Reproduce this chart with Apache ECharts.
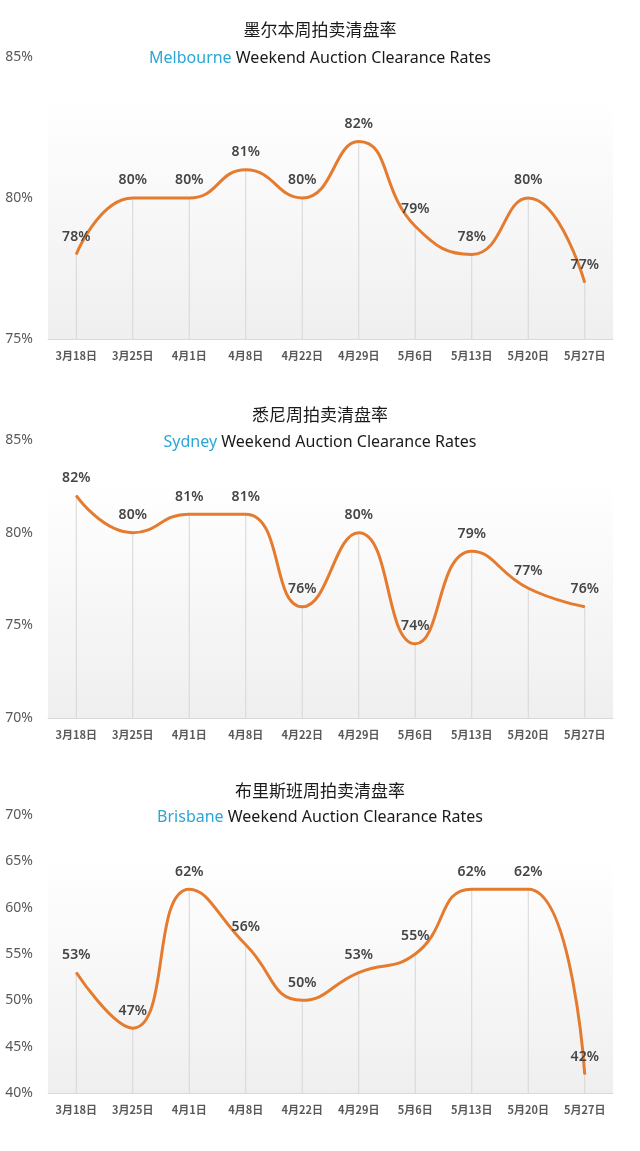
<!DOCTYPE html>
<html>
<head>
<meta charset="utf-8">
<script src="https://cdn.jsdelivr.net/npm/echarts@6/dist/echarts.min.js"></script>
<style>
html,body{margin:0;padding:0;background:#fff;}
#c{width:640px;height:1151px;}
</style>
</head>
<body>
<div id="c"></div>
<script>
const categories = ['3月18日','3月25日','4月1日','4月8日','4月22日','4月29日','5月6日','5月13日','5月20日','5月27日'];
const melbourne = [78, 80, 80, 81, 80, 82, 79, 78, 80, 77];
const sydney = [82, 80, 81, 81, 76, 80, 74, 79, 77, 76];
const brisbane = [53, 47, 62, 56, 50, 53, 55, 62, 62, 42];
const cnTitles = ['墨尔本周拍卖清盘率', '悉尼周拍卖清盘率', '布里斯班周拍卖清盘率'];
const cities = ['Melbourne', 'Sydney', 'Brisbane'];
const enSuffix = ' Weekend Auction Clearance Rates';
const yRanges = [[75, 85], [70, 85], [40, 70]];

const seriesData = [melbourne, sydney, brisbane];
const gridTops = [57, 440, 815];
const gridHeights = [282, 278, 278];
const cnTitleTops = [16, 401, 777];
const enTitleTops = [45, 429, 804];

const chart = echarts.init(document.getElementById('c'), null, {renderer: 'canvas'});
const titles = [], grids = [], xAxes = [], yAxes = [], series = [];
for (let i = 0; i < 3; i++) {
  titles.push({
    text: cnTitles[i], left: 'center', top: cnTitleTops[i],
    textStyle: {fontFamily: 'Noto Sans CJK SC', fontSize: 17, fontWeight: 'normal', color: '#1a1a1a'}
  });
  titles.push({
    text: '{a|' + cities[i] + '}{b|' + enSuffix + '}', left: 'center', top: enTitleTops[i],
    textStyle: {
      fontWeight: 'normal',
      rich: {
        a: {fontFamily: 'Noto Sans', fontSize: 16, fontWeight: 'normal', color: '#2ba6d6'},
        b: {fontFamily: 'Noto Sans', fontSize: 16, fontWeight: 'normal', color: '#1a1a1a'}
      }
    }
  });
  grids.push({
    left: 48, right: 27, top: gridTops[i], height: gridHeights[i],
    show: true, borderWidth: 0,
    backgroundColor: new echarts.graphic.LinearGradient(0, 0, 0, 1, [
      {offset: 0, color: '#ffffff'}, {offset: 0.15, color: '#ffffff'}, {offset: 1, color: '#efefef'}
    ])
  });
  xAxes.push({
    type: 'category', gridIndex: i, data: categories, boundaryGap: true,
    axisLine: {lineStyle: {color: '#d9d9d9', width: 1}},
    axisTick: {show: false},
    axisLabel: {fontFamily: 'Noto Sans CJK SC', fontSize: 11, fontWeight: 'bold', color: '#595959', margin: 11, interval: 0}
  });
  yAxes.push({
    type: 'value', gridIndex: i, min: yRanges[i][0], max: yRanges[i][1], interval: 5,
    splitLine: {show: false}, axisLine: {show: false}, axisTick: {show: false},
    axisLabel: {fontFamily: 'Noto Sans', fontSize: 14, color: '#595959', margin: 15, formatter: '{value}%'}
  });
  series.push({
    type: 'bar', xAxisIndex: i, yAxisIndex: i, data: seriesData[i],
    barWidth: 1, silent: true, clip: true,
    itemStyle: {color: '#d6d6d6'}, z: 1
  });
  series.push({
    type: 'line', xAxisIndex: i, yAxisIndex: i, data: seriesData[i],
    smooth: 0.5, showSymbol: true, symbol: 'circle', symbolSize: 1,
    lineStyle: {color: '#e57b2f', width: 3},
    itemStyle: {color: '#e57b2f'},
    label: {show: true, position: 'top', distance: 10, formatter: '{c}%',
      fontFamily: 'Noto Sans', fontSize: 14, fontWeight: 600, color: '#454545'},
    labelLayout: {hideOverlap: false},
    z: 3
  });
}
chart.setOption({
  animation: false,
  backgroundColor: '#ffffff',
  title: titles, grid: grids, xAxis: xAxes, yAxis: yAxes, series: series
});
</script>
</body>
</html>
